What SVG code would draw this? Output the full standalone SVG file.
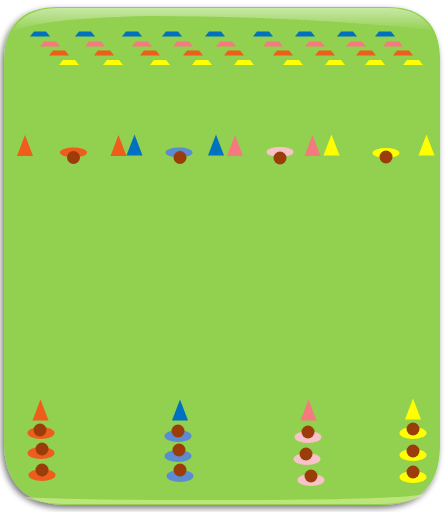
<svg xmlns="http://www.w3.org/2000/svg" xmlns:xlink="http://www.w3.org/1999/xlink" width="445" height="512" viewBox="0 0 445 512">
<defs>
<filter id="sh" x="-10%" y="-10%" width="120%" height="120%">
<feGaussianBlur in="SourceAlpha" stdDeviation="3"/>
<feOffset dx="-2" dy="3" result="b"/>
<feComponentTransfer><feFuncA type="linear" slope="0.55"/></feComponentTransfer>
<feMerge><feMergeNode/><feMergeNode in="SourceGraphic"/></feMerge>
</filter>
<linearGradient id="gl" x1="0" y1="0" x2="0" y2="1">
<stop offset="0" stop-color="#ffffff" stop-opacity="0.5"/>
<stop offset="1" stop-color="#ffffff" stop-opacity="0"/>
</linearGradient>
<path id="flat" d="M-10,2.5 L-6,-2.5 L6,-2.5 L10,2.5 Z"/>
<path id="tri" d="M-8,10.5 L0,-10.5 L8,10.5 Z"/>
<ellipse id="disc" cx="0" cy="0" rx="13.5" ry="5"/>
<ellipse id="disc2" cx="0" cy="0" rx="13.5" ry="6"/>
<circle id="head" cx="0" cy="0" r="6.5"/>
</defs>
<style>
.bl{fill:#0070C0}.pk{fill:#F47A7F}.or{fill:#EE5D1B}.ye{fill:#FFFF00}
.blL{fill:#5B8BD0}.pkL{fill:#F8C3C8}.hd{fill:#9A3D0A}
</style>
<g id="field">
<path d="M58,7 L387,7 Q440,7 440,60 L440,445 Q440,505 380,505 L68,505 Q4,505 4,441 L4,62 Q4,7 58,7 Z" fill="#92D050" filter="url(#sh)"/>
<path d="M58,8 L387,8 Q420,8 432,30 Q300,16 150,16 Q40,18 12,32 Q24,8 58,8 Z" fill="url(#gl)"/>
<path d="M25,497 Q60,500 220,500 Q400,500 425,494 Q410,504 380,504 L68,504 Q40,504 25,497 Z" fill="#EFFFB0" fill-opacity="0.45"/>
</g>
<g id="row-blue" class="bl">
<use href="#flat" x="40" y="34"/><use href="#flat" x="85" y="34"/><use href="#flat" x="132" y="34"/><use href="#flat" x="172" y="34"/><use href="#flat" x="215" y="34"/><use href="#flat" x="263" y="34"/><use href="#flat" x="305" y="34"/><use href="#flat" x="347" y="34"/><use href="#flat" x="385" y="34"/>
</g>
<g id="row-pink" class="pk">
<use href="#flat" x="50" y="44"/><use href="#flat" x="95" y="44"/><use href="#flat" x="142" y="44"/><use href="#flat" x="183" y="44"/><use href="#flat" x="226" y="44"/><use href="#flat" x="273" y="44"/><use href="#flat" x="315" y="44"/><use href="#flat" x="356" y="44"/><use href="#flat" x="393" y="44"/>
</g>
<g id="row-orange" class="or">
<use href="#flat" x="59" y="53"/><use href="#flat" x="104" y="53"/><use href="#flat" x="150" y="53"/><use href="#flat" x="193" y="53"/><use href="#flat" x="234" y="53"/><use href="#flat" x="283" y="53"/><use href="#flat" x="325" y="53"/><use href="#flat" x="366" y="53"/><use href="#flat" x="403" y="53"/>
</g>
<g id="row-yellow" class="ye">
<use href="#flat" x="69" y="62.5"/><use href="#flat" x="113" y="62.5"/><use href="#flat" x="160" y="62.5"/><use href="#flat" x="202" y="62.5"/><use href="#flat" x="244" y="62.5"/><use href="#flat" x="293" y="62.5"/><use href="#flat" x="335" y="62.5"/><use href="#flat" x="375" y="62.5"/><use href="#flat" x="413" y="62.5"/>
</g>
<g id="mid-cones">
<use href="#tri" class="or" x="25" y="145.5"/>
<use href="#tri" class="or" x="118.5" y="145.5"/>
<use href="#tri" class="bl" x="134.5" y="145"/>
<use href="#tri" class="bl" x="216" y="145"/>
<use href="#tri" class="pk" x="235" y="145.5"/>
<use href="#tri" class="pk" x="312.5" y="145.5"/>
<use href="#tri" class="ye" x="331.5" y="145"/>
<use href="#tri" class="ye" x="426.5" y="145"/>
</g>
<g id="mid-player-orange"><use href="#disc" class="or" x="73.5" y="152.5"/><use href="#head" class="hd" x="73.5" y="157.5"/></g>
<g id="mid-player-blue"><use href="#disc" class="blL" x="179" y="152.5"/><use href="#head" class="hd" x="180" y="157.5"/></g>
<g id="mid-player-pink"><use href="#disc" class="pkL" x="280" y="152"/><use href="#head" class="hd" x="280" y="158"/></g>
<g id="mid-player-yellow"><use href="#disc" class="ye" x="386" y="153"/><use href="#head" class="hd" x="386" y="157"/></g>
<g id="team-orange">
<use href="#tri" class="or" x="40.5" y="410"/>
<use href="#disc2" class="or" x="41" y="433"/><use href="#head" class="hd" x="40" y="430"/>
<use href="#disc2" class="or" x="41" y="453"/><use href="#head" class="hd" x="42" y="449"/>
<use href="#disc2" class="or" x="42" y="475"/><use href="#head" class="hd" x="42" y="470"/>
</g>
<g id="team-blue">
<use href="#tri" class="bl" x="180" y="410"/>
<use href="#disc2" class="blL" x="178" y="436"/><use href="#head" class="hd" x="178" y="431"/>
<use href="#disc2" class="blL" x="178" y="456"/><use href="#head" class="hd" x="179" y="450"/>
<use href="#disc2" class="blL" x="180" y="476"/><use href="#head" class="hd" x="180" y="470"/>
</g>
<g id="team-pink">
<use href="#tri" class="pk" x="308.5" y="410"/>
<use href="#disc2" class="pkL" x="308" y="437"/><use href="#head" class="hd" x="308" y="432"/>
<use href="#disc2" class="pkL" x="307" y="459"/><use href="#head" class="hd" x="306" y="454"/>
<use href="#disc2" class="pkL" x="311" y="480"/><use href="#head" class="hd" x="311" y="476"/>
</g>
<g id="team-yellow">
<use href="#tri" class="ye" x="413" y="409"/>
<use href="#disc2" class="ye" x="413" y="433"/><use href="#head" class="hd" x="413" y="429"/>
<use href="#disc2" class="ye" x="413" y="455"/><use href="#head" class="hd" x="413" y="451"/>
<use href="#disc2" class="ye" x="413" y="477"/><use href="#head" class="hd" x="413" y="472"/>
</g>
<g id="connectors"/>
</svg>
